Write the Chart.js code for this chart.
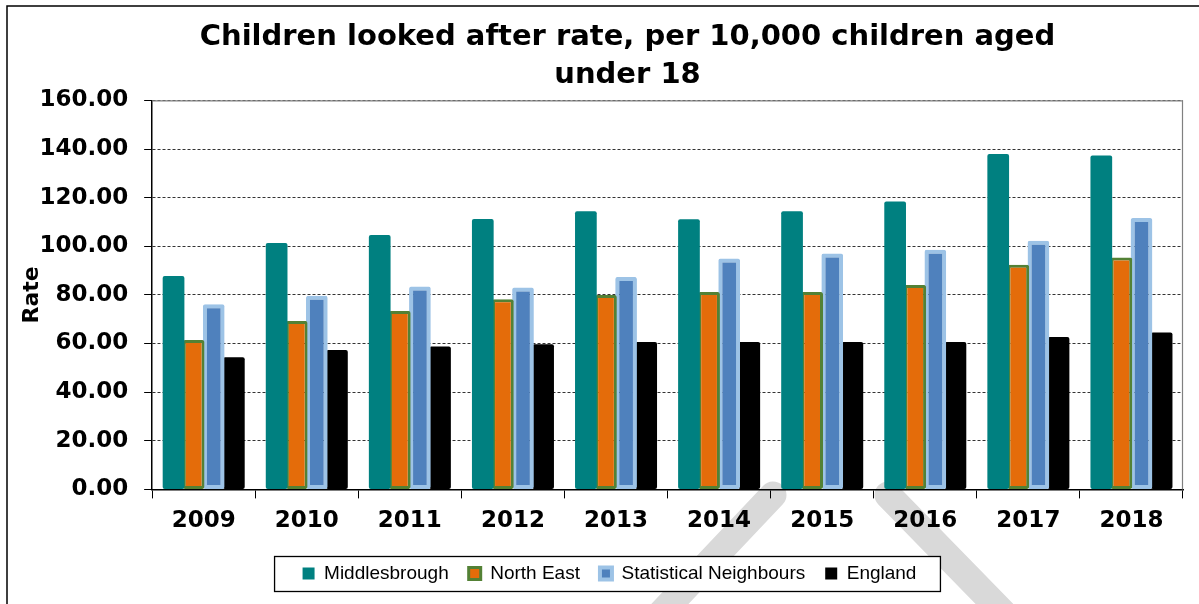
<!DOCTYPE html>
<html>
<head>
<meta charset="utf-8">
<script src="https://cdn.jsdelivr.net/npm/chart.js@4.4.1/dist/chart.umd.min.js"></script>
<style>
  html, body { margin: 0; padding: 0; background: #fff; }
  #wrap { width: 1199px; height: 604px; }
</style>
</head>
<body>
<div id="wrap"><canvas id="cla_chart" width="1199" height="604"></canvas></div>
<script>
// values
years = ['2009', '2010', '2011', '2012', '2013', '2014', '2015', '2016', '2017', '2018']
middlesbrough = [87.8, 101.3, 104.6, 111.2, 114.4, 111.1, 114.4, 118.4, 138.0, 137.3]
northEast = [61.4, 69.3, 73.4, 78.2, 80.0, 81.2, 81.2, 84.1, 92.4, 95.4]
statNeighbours = [76.2, 79.7, 83.5, 83.0, 87.4, 95.0, 97.0, 98.6, 102.3, 111.6]
england = [54.4, 57.3, 58.8, 59.7, 60.6, 60.6, 60.6, 60.6, 62.7, 64.5]

titleLines = ['Children looked after rate, per 10,000 children aged', 'under 18']
yTitle = 'Rate'

// frame, faint watermark strokes and the legend box (all decoration)
var decor = {
  id: 'decor',
  afterLayout: function(chart) {
    // title and legend sit a bit right of the canvas centre in the reference
    if (chart.titleBlock) { chart.titleBlock.left += 62; }
    if (chart.legend) { chart.legend.left += 13; chart.legend.right += 13; }
  },
  beforeDraw: function(chart) {
    var ctx = chart.ctx;
    ctx.save();
    ctx.strokeStyle = '#d9d9d9';
    ctx.lineWidth = 27;
    ctx.lineCap = 'round';
    ctx.beginPath();
    ctx.moveTo(773, 495); ctx.lineTo(650, 625);
    ctx.moveTo(888, 495); ctx.lineTo(1015, 625);
    ctx.stroke();

    // outer frame (only top and left are inside the picture)
    ctx.strokeStyle = '#000';
    ctx.lineWidth = 1.5;
    ctx.beginPath();
    ctx.moveTo(7, 610); ctx.lineTo(7, 6); ctx.lineTo(1205, 6);
    ctx.stroke();

    // legend box
    var lg = chart.legend;
    if (lg && lg.legendHitBoxes && lg.legendHitBoxes.length) {
      var hb = lg.legendHitBoxes;
      var l = hb[0].left - 28, r = hb[hb.length - 1].left + hb[hb.length - 1].width + 24;
      var cy = hb[0].top + hb[0].height / 2;
      ctx.fillStyle = '#fff';
      ctx.fillRect(l, cy - 17, r - l, 35);
      ctx.strokeStyle = '#000';
      ctx.lineWidth = 1.3;
      ctx.strokeRect(l, cy - 17, r - l, 35);
    }
    ctx.restore();
  },
  beforeDatasetsDraw: function(chart) {
    var a = chart.chartArea, ctx = chart.ctx;
    ctx.save();
    ctx.strokeStyle = '#808080';
    ctx.lineWidth = 1.2;
    ctx.beginPath();
    ctx.moveTo(a.left, a.top + 0.5); ctx.lineTo(a.right - 0.5, a.top + 0.5); ctx.lineTo(a.right - 0.5, a.bottom);
    ctx.stroke();
    ctx.restore();
  }
};

chartdata = {
  labels: years,
  datasets: [{
    label: 'Middlesbrough',
    data: middlesbrough,
    backgroundColor: '#008080',
    borderColor: '#008080',
    borderWidth: 0
  }, {
    label: 'North East',
    data: northEast,
    backgroundColor: '#E46C0A',
    borderColor: '#538135',
    borderWidth: 3
  }, {
    label: 'Statistical Neighbours',
    data: statNeighbours,
    backgroundColor: '#4F81BD',
    borderColor: '#9DC3E6',
    borderWidth: 4
  }, {
    label: 'England',
    data: england,
    backgroundColor: '#000000',
    borderColor: '#000000',
    borderWidth: 0
  }]
};

config = {
  type: 'bar',
  data: chartdata,
  plugins: [decor],
  options: {
    responsive: false,
    animation: false,
    events: [],
    layout: { padding: { left: 10, right: 16, top: 19, bottom: 11 } },
    datasets: {
      bar: {
        categoryPercentage: 0.78,
        barPercentage: 1.08,
        borderSkipped: false,
        borderRadius: 2
      }
    },
    plugins: {
      tooltip: { enabled: false },
      title: {
        display: true,
        text: titleLines,
        color: '#000',
        font: { family: 'DejaVu Sans', size: 29, weight: 'bold', lineHeight: 1.3 },
        padding: { top: 0, bottom: 6 }
      },
      legend: {
        position: 'bottom',
        labels: {
          color: '#000',
          font: { family: 'Liberation Sans', size: 19 },
          boxWidth: 12,
          boxHeight: 12,
          padding: 20
        }
      }
    },
    scales: {
      x: {
        grid: {
          display: true,
          offset: true,
          drawOnChartArea: false,
          drawTicks: true,
          tickLength: 9,
          color: '#000'
        },
        border: { color: '#000', width: 1.5 },
        ticks: {
          color: '#000',
          padding: 9,
          font: { family: 'DejaVu Sans', size: 23, weight: 'bold' }
        }
      },
      y: {
        min: 0,
        max: 160,
        grid: {
          color: '#333',
          lineWidth: 1,
          tickLength: 8,
          tickColor: '#000'
        },
        border: { color: '#000', width: 1.5, dash: [3, 2] },
        ticks: {
          stepSize: 20,
          color: '#000',
          padding: 16,
          font: { family: 'DejaVu Sans', size: 23, weight: 'bold' },
          callback: function(v) { return v.toFixed(2); }
        },
        title: {
          display: true,
          text: yTitle,
          color: '#000',
          padding: { top: 9, bottom: -22 },
          font: { family: 'DejaVu Sans', size: 22, weight: 'bold' }
        }
      }
    }
  }
};

var myChart = new Chart(document.getElementById('cla_chart'), config);
</script>
</body>
</html>
